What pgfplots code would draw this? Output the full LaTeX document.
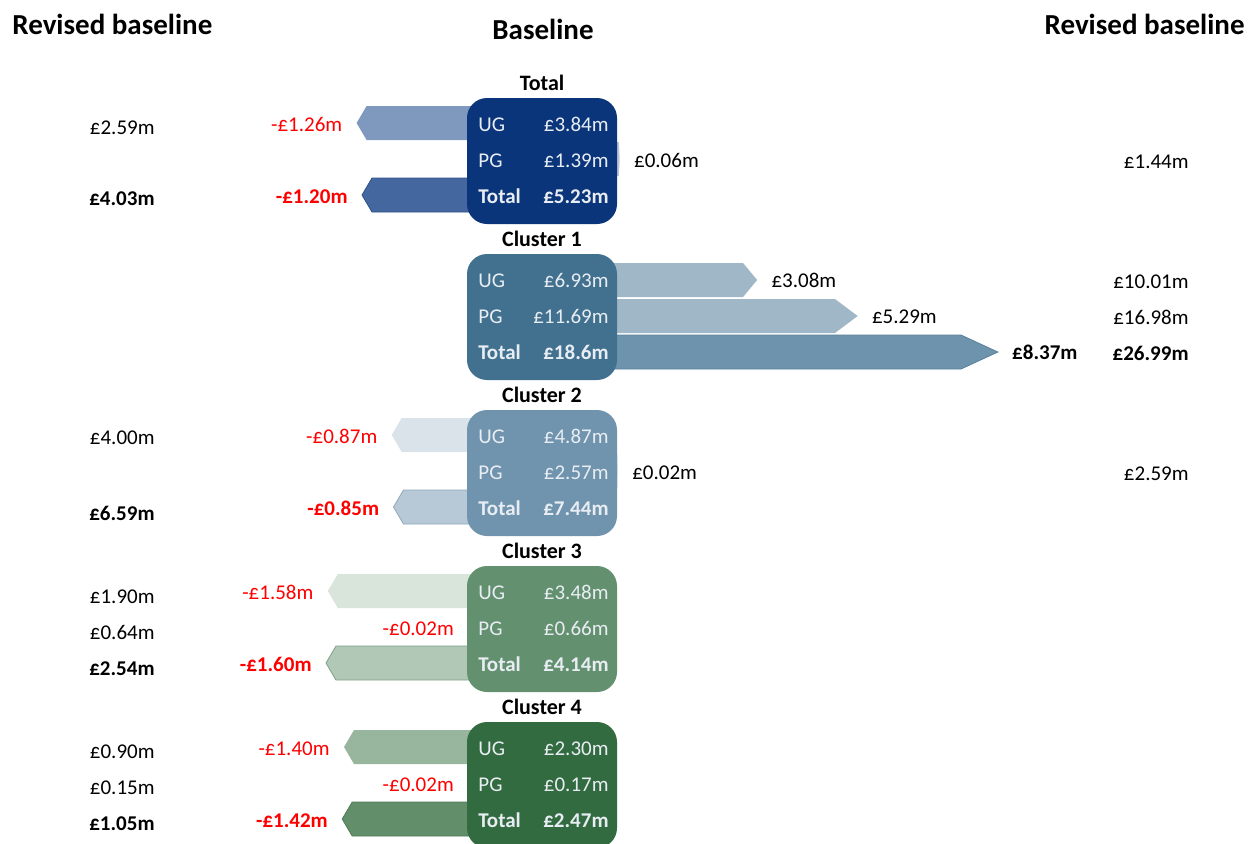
\documentclass[border=0pt]{standalone}
\usepackage{pgfplots}
\pgfplotsset{compat=1.18}
\usepackage{fontspec}
\setmainfont{Carlito}
\definecolor{b0}{HTML}{0A357A}
\definecolor{a0u}{HTML}{7F98BE}
\definecolor{a0p}{HTML}{B9C6DA}
\definecolor{a0t}{HTML}{44679F}
\definecolor{a0tb}{HTML}{2F5289}
\definecolor{b1}{HTML}{41718F}
\definecolor{a1u}{HTML}{A0B7C8}
\definecolor{a1t}{HTML}{6E93AD}
\definecolor{a1tb}{HTML}{5B809B}
\definecolor{b2}{HTML}{7194AE}
\definecolor{a2u}{HTML}{DAE3EA}
\definecolor{a2t}{HTML}{B7C9D6}
\definecolor{a2tb}{HTML}{8FA8BB}
\definecolor{b3}{HTML}{63906E}
\definecolor{a3u}{HTML}{D9E4DB}
\definecolor{a3t}{HTML}{B0C8B5}
\definecolor{a3tb}{HTML}{7FA187}
\definecolor{b4}{HTML}{336B40}
\definecolor{a4u}{HTML}{98B59D}
\definecolor{a4t}{HTML}{628E6A}
\definecolor{a4tb}{HTML}{4E7B57}
\definecolor{boxtxt}{HTML}{E8EDF3}
\definecolor{neg}{HTML}{FF0000}
\newcommand{\body}{\fontsize{10.5}{12}\selectfont}
\newcommand{\ttl}{\fontsize{11}{13}\selectfont\bfseries}
\newcommand{\hd}{\fontsize{14.5}{16}\selectfont\bfseries}
\begin{document}
\begin{tikzpicture}[every node/.style={inner sep=0pt}]
\path[use as bounding box] (0pt,0pt) rectangle (624.5pt,-421.5pt);
% ---------- negative changes (left of boxes) ----------
\begin{axis}[at={(5.5pt,-421.5pt)}, anchor=south west, scale only axis,
  width=229.5pt, height=421.5pt, xmin=-5.1, xmax=0, ymin=0, ymax=843,
  y dir=reverse, axis lines=none, clip=false, enlargelimits=false, no markers,
  every node/.style={inner sep=0pt}]
\addplot[fill=a0u, draw=none] coordinates {(0.25,106) (-1.149,106) (-1.26,123) (-1.149,140) (0.25,140)} --cycle;
\addplot[fill=a0t, draw=a0tb] coordinates {(0.25,178) (-1.089,178) (-1.20,195) (-1.089,212) (0.25,212)} --cycle;
\addplot[fill=a2u, draw=none] coordinates {(0.25,418) (-0.759,418) (-0.87,435) (-0.759,452) (0.25,452)} --cycle;
\addplot[fill=a2t, draw=a2tb] coordinates {(0.25,490) (-0.739,490) (-0.85,507) (-0.739,524) (0.25,524)} --cycle;
\addplot[fill=a3u, draw=none] coordinates {(0.25,574) (-1.469,574) (-1.58,591) (-1.469,608) (0.25,608)} --cycle;
\addplot[fill=a3u, draw=none] coordinates {(0.25,610) (0.091,610) (-0.02,627) (0.091,644) (0.25,644)} --cycle;
\addplot[fill=a3t, draw=a3tb] coordinates {(0.25,646) (-1.489,646) (-1.60,663) (-1.489,680) (0.25,680)} --cycle;
\addplot[fill=a4u, draw=none] coordinates {(0.25,730) (-1.289,730) (-1.40,747) (-1.289,764) (0.25,764)} --cycle;
\addplot[fill=a4u, draw=none] coordinates {(0.25,766) (0.091,766) (-0.02,783) (0.091,800) (0.25,800)} --cycle;
\addplot[fill=a4t, draw=a4tb] coordinates {(0.25,802) (-1.309,802) (-1.42,819) (-1.309,836) (0.25,836)} --cycle;
% labels
\node[anchor=base east, xshift=-7pt, text=neg, font=\body] at (axis cs:-1.26,131) {-£1.26m};
\node[anchor=base east, xshift=-7pt, text=neg, font=\body\bfseries] at (axis cs:-1.20,203) {-£1.20m};
\node[anchor=base east, xshift=-7pt, text=neg, font=\body] at (axis cs:-0.87,443) {-£0.87m};
\node[anchor=base east, xshift=-7pt, text=neg, font=\body\bfseries] at (axis cs:-0.85,515) {-£0.85m};
\node[anchor=base east, xshift=-7pt, text=neg, font=\body] at (axis cs:-1.58,599) {-£1.58m};
\node[anchor=base east, xshift=-7pt, text=neg, font=\body] at (axis cs:-0.02,635) {-£0.02m};
\node[anchor=base east, xshift=-7pt, text=neg, font=\body\bfseries] at (axis cs:-1.60,671) {-£1.60m};
\node[anchor=base east, xshift=-7pt, text=neg, font=\body] at (axis cs:-1.40,755) {-£1.40m};
\node[anchor=base east, xshift=-7pt, text=neg, font=\body] at (axis cs:-0.02,791) {-£0.02m};
\node[anchor=base east, xshift=-7pt, text=neg, font=\body\bfseries] at (axis cs:-1.42,827) {-£1.42m};
\end{axis}
% ---------- positive changes (right of boxes) ----------
\begin{axis}[at={(308.5pt,-421.5pt)}, anchor=south west, scale only axis,
  width=307.125pt, height=421.5pt, xmin=0, xmax=13.5, ymin=0, ymax=843,
  y dir=reverse, axis lines=none, clip=false, enlargelimits=false, no markers,
  every node/.style={inner sep=0pt}]
\addplot[fill=a0p, draw=none] coordinates {(-0.3,142) (0.04,142) (0.06,159) (0.04,176) (-0.3,176)} --cycle;
\addplot[fill=a1u, draw=none] coordinates {(-0.3,263) (2.77,263) (3.08,280) (2.77,297) (-0.3,297)} --cycle;
\addplot[fill=a1u, draw=none] coordinates {(-0.3,299) (4.79,299) (5.29,316) (4.79,333) (-0.3,333)} --cycle;
\addplot[fill=a1t, draw=a1tb] coordinates {(-0.3,335) (7.56,335) (8.37,352) (7.56,369) (-0.3,369)} --cycle;
\addplot[fill=a2u, draw=none] coordinates {(-0.3,454) (0.01,454) (0.02,471) (0.01,488) (-0.3,488)} --cycle;
\node[anchor=base west, xshift=7pt, font=\body] at (axis cs:0.06,167) {£0.06m};
\node[anchor=base west, xshift=7pt, font=\body] at (axis cs:3.08,287) {£3.08m};
\node[anchor=base west, xshift=7pt, font=\body] at (axis cs:5.29,323) {£5.29m};
\node[anchor=base west, xshift=7pt, font=\body\bfseries] at (axis cs:8.37,359) {£8.37m};
\node[anchor=base west, xshift=7pt, font=\body] at (axis cs:0.02,479) {£0.02m};
\end{axis}
\begin{scope}[x=0.5pt,y=-0.5pt]
% ---------- headings ----------
\node[anchor=base west, font=\hd] at (12,34) {Revised baseline};
\node[anchor=base, font=\hd] at (543,39) {Baseline};
\node[anchor=base east, font=\hd] at (1245,34) {Revised baseline};
% ---------- boxes ----------
\foreach \G/\col/\name/\u/\p/\t in {98/b0/Total/£3.84m/£1.39m/£5.23m,
    254/b1/Cluster 1/£6.93m/£11.69m/£18.6m,
    410/b2/Cluster 2/£4.87m/£2.57m/£7.44m,
    566/b3/Cluster 3/£3.48m/£0.66m/£4.14m,
    722/b4/Cluster 4/£2.30m/£0.17m/£2.47m}{
  \fill[\col, rounded corners=10pt] (467,\G) rectangle (617,\G+126);
  \node[anchor=base, font=\ttl] at (542,\G-8) {\name};
  \node[anchor=base west, font=\body, text=boxtxt] at (478,\G+33) {UG};
  \node[anchor=base east, font=\body, text=boxtxt] at (609,\G+33) {\u};
  \node[anchor=base west, font=\body, text=boxtxt] at (478,\G+69) {PG};
  \node[anchor=base east, font=\body, text=boxtxt] at (609,\G+69) {\p};
  \node[anchor=base west, font=\body\bfseries, text=boxtxt] at (478,\G+105) {Total};
  \node[anchor=base east, font=\body\bfseries, text=boxtxt] at (609,\G+105) {\t};
}
% ---------- revised baselines ----------
\node[anchor=base east, font=\body] at (155,134) {£2.59m};
\node[anchor=base east, font=\body\bfseries] at (155,205) {£4.03m};
\node[anchor=base east, font=\body] at (1189,168) {£1.44m};
\node[anchor=base east, font=\body] at (1189,288) {£10.01m};
\node[anchor=base east, font=\body] at (1189,324) {£16.98m};
\node[anchor=base east, font=\body\bfseries] at (1189,360) {£26.99m};
\node[anchor=base east, font=\body] at (155,444) {£4.00m};
\node[anchor=base east, font=\body] at (1189,480) {£2.59m};
\node[anchor=base east, font=\body\bfseries] at (155,520) {£6.59m};
\node[anchor=base east, font=\body] at (155,603) {£1.90m};
\node[anchor=base east, font=\body] at (155,639) {£0.64m};
\node[anchor=base east, font=\body\bfseries] at (155,675) {£2.54m};
\node[anchor=base east, font=\body] at (155,758) {£0.90m};
\node[anchor=base east, font=\body] at (155,794) {£0.15m};
\node[anchor=base east, font=\body\bfseries] at (155,830) {£1.05m};
\end{scope}
\end{tikzpicture}
\end{document}
